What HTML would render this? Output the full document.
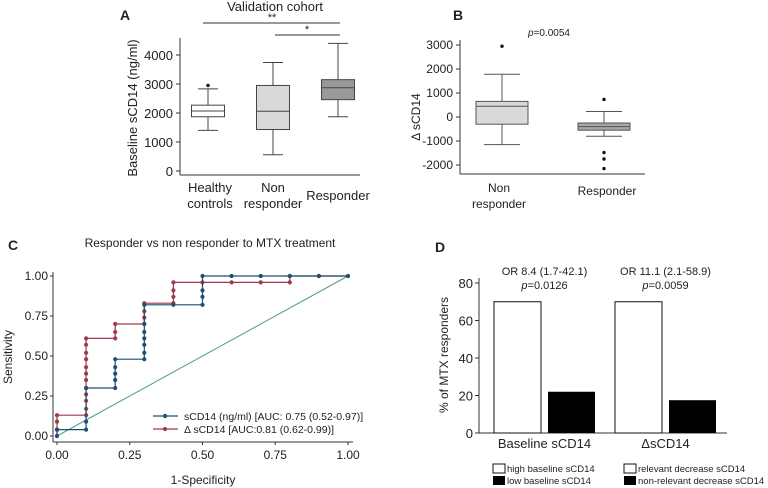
<!DOCTYPE html>
<html><head><meta charset="utf-8"><style>
body{margin:0;background:#fff}
svg{display:block;font-family:"Liberation Sans",Arial,sans-serif}
</style></head><body>
<svg id="s" width="768" height="488" viewBox="0 0 768 488"></svg>
<script>
// Panel A data
const aCats=["Healthy controls","Non responder","Responder"];
const aWlo=[1400,560,1870], aQ1=[1870,1430,2460], aMed=[2070,2060,2870], aQ3=[2270,2950,3150], aWhi=[2830,3740,4400];
const aOut=[[2950],[],[]];
const aTicks=[0,1000,2000,3000,4000];
// Panel B data
const bCats=["Non responder","Responder"];
const bWlo=[-1150,-800], bQ1=[-300,-550], bMed=[450,-400], bQ3=[650,-250], bWhi=[1780,230];
const bOut=[[2950],[730,-1480,-1750,-2150]];
const bTicks=[-2000,-1000,0,1000,2000,3000];
// Panel C data
const cTicks=[0,0.25,0.5,0.75,1];
const blueX=[0,0,0.1,0.1,0.1,0.2,0.2,0.2,0.2,0.2,0.3,0.3,0.3,0.3,0.3,0.3,0.3,0.4,0.5,0.5,0.5,0.5,0.6,0.7,0.8,0.9,1];
const blueY=[0,0.04,0.04,0.09,0.30,0.30,0.35,0.39,0.43,0.48,0.48,0.52,0.57,0.61,0.65,0.70,0.82,0.82,0.82,0.87,0.91,1,1,1,1,1,1];
const redX=[0,0,0,0,0.1,0.1,0.1,0.1,0.1,0.1,0.1,0.1,0.1,0.1,0.1,0.1,0.2,0.2,0.2,0.3,0.3,0.3,0.3,0.4,0.4,0.4,0.4,0.5,0.6,0.7,0.8,0.8,0.9,1];
const redY=[0,0.04,0.09,0.13,0.13,0.17,0.22,0.26,0.30,0.35,0.39,0.43,0.48,0.52,0.57,0.61,0.61,0.65,0.70,0.70,0.74,0.78,0.83,0.83,0.87,0.91,0.96,0.96,0.96,0.96,0.96,1,1,1];
// Panel D data
const dCats=["Baseline sCD14","\u0394sCD14"];
const dHigh=[70,70], dLow=[22,17.5];
const dTicks=[0,20,40,60,80];
const dOR=["OR 8.4 (1.7-42.1)","OR 11.1 (2.1-58.9)"], dP=["0.0126","0.0059"];

const S=document.getElementById('s');const NS="http://www.w3.org/2000/svg";
function el(t,a,txt){const e=document.createElementNS(NS,t);for(const k in a)e.setAttribute(k,a[k]);if(txt!==undefined)e.textContent=txt;S.appendChild(e);return e;}
function line(x1,y1,x2,y2,c,w){return el('line',{x1,y1,x2,y2,stroke:c||'#333','stroke-width':w||1});}
function text(x,y,s,o){o=o||{};return el('text',Object.assign({x,y,'font-size':o.fs||12,'text-anchor':o.a||'middle',fill:'#222'},o.attr||{}),s);}

// ===== A =====
const aY=v=>171-v*0.029, aX=[208,273,338], aW=33;
let t=text(125,20,'A',{fs:14,attr:{'font-weight':'bold'}});
t=text(275,11,'Validation cohort',{fs:13});
line(180,38,180,175);line(180,175,360,175);
aTicks.forEach(v=>{line(176,aY(v),180,aY(v));t=text(173,aY(v)+5,String(v),{fs:13,a:'end'});});
t=text(0,0,'Baseline sCD14 (ng/ml)',{fs:13,attr:{transform:'translate(137,108) rotate(-90)'}});
const aFill=['#ffffff','#d9d9d9','#999999'];
aCats.forEach((c,i)=>{const x=aX[i];
 line(x,aY(aWlo[i]),x,aY(aWhi[i]),'#444');line(x-10,aY(aWlo[i]),x+10,aY(aWlo[i]),'#444');line(x-10,aY(aWhi[i]),x+10,aY(aWhi[i]),'#444');
 const r=el('rect',{x:x-aW/2,y:aY(aQ3[i]),width:aW,height:aY(aQ1[i])-aY(aQ3[i]),fill:aFill[i],stroke:'#444'});
 
 line(x-aW/2,aY(aMed[i]),x+aW/2,aY(aMed[i]),'#444');
 aOut[i].forEach(o=>el('circle',{cx:x,cy:aY(o),r:1.7,fill:'#111'}));
});
t=text(210,192,'Healthy',{fs:13});text(210,208,'controls',{fs:13});
text(273,192,'Non',{fs:13});text(273,208,'responder',{fs:13});text(338,200,'Responder',{fs:13});
line(203,23,340,23);text(272,21,'**',{fs:11});line(275,35,340,35);text(307,33,'*',{fs:11});

// ===== B =====
const bY=v=>117-v*0.024, bX=[502,604], bW=52;
t=text(458,20,'B',{fs:14,attr:{'font-weight':'bold'}});
line(460,40,460,174);line(460,174,645,174);
bTicks.forEach(v=>{line(456,bY(v),460,bY(v));t=text(453,bY(v)+4,String(v),{fs:12,a:'end'});});
t=text(0,0,'\u0394 sCD14',{fs:12,attr:{transform:'translate(420,117) rotate(-90)'}});
t=el('text',{x:549,y:36,'font-size':10,'text-anchor':'middle',fill:'#222'});t.innerHTML='<tspan font-style="italic">p</tspan>=0.0054';
const bFill=['#d9d9d9','#a6a6a6'];
bCats.forEach((c,i)=>{const x=bX[i];
 line(x,bY(bWlo[i]),x,bY(bWhi[i]),'#555');line(x-18,bY(bWlo[i]),x+18,bY(bWlo[i]),'#555');line(x-18,bY(bWhi[i]),x+18,bY(bWhi[i]),'#555');
 const r=el('rect',{x:x-bW/2,y:bY(bQ3[i]),width:bW,height:bY(bQ1[i])-bY(bQ3[i]),fill:bFill[i],stroke:'#555'});
 
 line(x-bW/2,bY(bMed[i]),x+bW/2,bY(bMed[i]),'#555');
 bOut[i].forEach(o=>el('circle',{cx:x,cy:bY(o),r:1.7,fill:'#111'}));
});
text(499,192,'Non',{fs:12});text(499,208,'responder',{fs:12});text(607,195,'Responder',{fs:12});

// ===== C =====
const cX=v=>57+v*291, cY=v=>436-v*160;
t=text(8,250,'C',{fs:14,a:'start',attr:{'font-weight':'bold'}});
t=text(210,247,'Responder vs non responder to MTX treatment',{fs:12});
line(53,272,53,442,'#333');line(53,442,353,442,'#333');
cTicks.forEach(v=>{line(50,cY(v),53,cY(v));text(48,cY(v)+4,v.toFixed(2),{fs:12,a:'end'});line(cX(v),442,cX(v),445);text(cX(v),459,v.toFixed(2),{fs:12});});
t=text(0,0,'Sensitivity',{fs:12,attr:{transform:'translate(12,357) rotate(-90)'}});
t=text(203,484,'1-Specificity',{fs:12});
line(cX(0),cY(0),cX(1),cY(1),'#4f9a86',1);
function roc(X,Y,c,name){let d='';X.forEach((x,i)=>{d+=(i?'L':'M')+cX(x)+' '+cY(Y[i]);});
 const p=el('path',{d,fill:'none',stroke:c,'stroke-width':1.2});
 X.forEach((x,i)=>{const q=el('circle',{cx:cX(x),cy:cY(Y[i]),r:2.1,fill:c});});}
roc(redX,redY,'#a0394a','red-roc');roc(blueX,blueY,'#1f4f70','blue-roc');
line(153,416,178,416,'#1f4f70',1.2);el('circle',{cx:165,cy:416,r:2.1,fill:'#1f4f70'});text(184,420,'sCD14 (ng/ml) [AUC: 0.75 (0.52-0.97)]',{fs:10.5,a:'start'});
line(153,429,178,429,'#a0394a',1.2);el('circle',{cx:165,cy:429,r:2.1,fill:'#a0394a'});text(184,433,'\u0394 sCD14 [AUC:0.81 (0.62-0.99)]',{fs:10.5,a:'start'});

// ===== D =====
const dY=v=>433-v*1.875, dXw=[494,615], dBw=47, dGap=54;
t=text(440,252,'D',{fs:14,attr:{'font-weight':'bold'}});
line(479,278,479,433);line(479,433,727,433);
dTicks.forEach(v=>{line(475,dY(v),479,dY(v));text(473,dY(v)+5,String(v),{fs:13,a:'end'});});
t=text(0,0,'% of MTX responders',{fs:12,attr:{transform:'translate(448,355) rotate(-90)'}});
dCats.forEach((c,i)=>{const x=dXw[i];
 let r=el('rect',{x,y:dY(dHigh[i]),width:dBw,height:433-dY(dHigh[i]),fill:'#fff',stroke:'#111','stroke-width':1});
 r=el('rect',{x:x+dGap,y:dY(dLow[i]),width:dBw,height:433-dY(dLow[i]),fill:'#000'});
 const cx=x+(dGap+dBw)/2;
 text(cx,448,c,{fs:13});text(cx,275,dOR[i],{fs:11});
 const p=el('text',{x:cx,y:289,'font-size':11,'text-anchor':'middle',fill:'#222'});p.innerHTML='<tspan font-style="italic">p</tspan>='+dP[i];
});
el('rect',{x:493,y:464,width:12,height:9,fill:'#fff',stroke:'#111'});text(507,472,'high baseline sCD14',{fs:9.5,a:'start'});
el('rect',{x:493,y:476,width:12,height:9,fill:'#000'});text(507,484,'low baseline sCD14',{fs:9.5,a:'start'});
el('rect',{x:624,y:464,width:12,height:9,fill:'#fff',stroke:'#111'});text(638,472,'relevant decrease sCD14',{fs:9.5,a:'start'});
el('rect',{x:624,y:476,width:12,height:9,fill:'#000'});text(638,484,'non-relevant decrease sCD14',{fs:9.5,a:'start'});
</script>
</body></html>
